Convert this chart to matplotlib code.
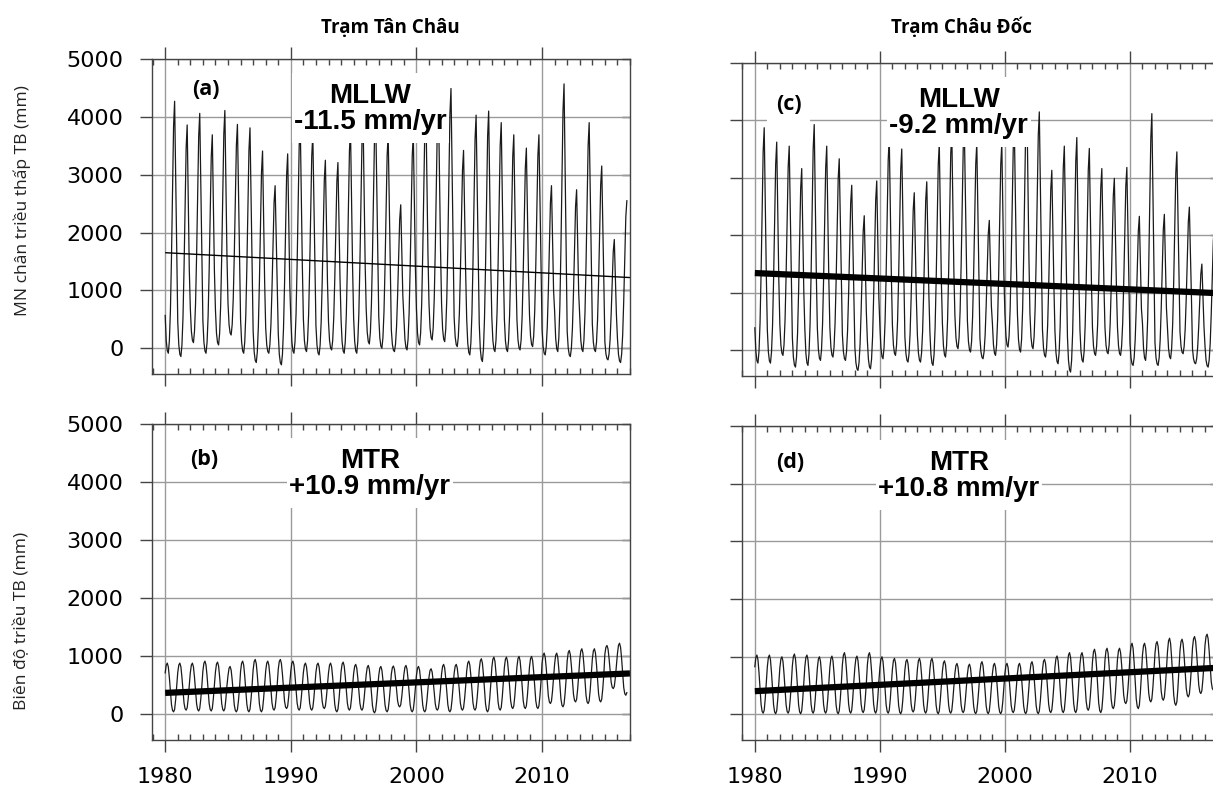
import matplotlib
matplotlib.use("Agg")
import matplotlib.pyplot as plt
import numpy as np
from matplotlib.patches import Rectangle
from matplotlib.transforms import IdentityTransform
from matplotlib.ticker import MultipleLocator

# ---- dữ liệu (mm) ----
years = np.arange(1980, 2017)
last_month = 10  # chuỗi kết thúc tháng 10/2016

# MLLW: đỉnh (mùa lũ) và chân (mùa khô) mỗi năm
mllw_tc_peak = [4270, 3860, 4060, 3690, 4110, 3870, 3810, 3410, 2810, 3360,
                3900, 3700, 3250, 3210, 3800, 4000, 4100, 3700, 2480, 3700,
                4200, 4300, 4490, 3420, 4030, 4100, 3900, 3690, 3460, 3690,
                2810, 4570, 2740, 3900, 3150, 1880, 2550]
mllw_tc_low = [-86, -144, 97, -86, 57, 229, -86, -247, -86, -287,
               -86, -58, -115, -29, -86, -86, 74, 0, -58, -29,
               57, 143, 114, 28, -115, -230, -58, -58, -29, 28,
               -115, -58, -144, -58, -58, -201, -247]
mllw_cd_peak = [3870, 3620, 3550, 3160, 3925, 3550, 3330, 2870, 2340, 2945,
                3700, 3500, 2740, 2930, 3600, 3800, 3900, 3600, 2260, 3600,
                3900, 4395, 4145, 3130, 3550, 3700, 3510, 3160, 2990, 3180,
                2330, 4115, 2365, 3450, 2490, 1500, 2150]
mllw_cd_low = [-221, -221, -87, -290, -261, -174, -116, -174, -348, -319,
               -145, -87, -203, -203, -261, -116, 29, -29, -145, -87,
               58, -29, 29, -116, -232, -377, -203, -87, -58, -87,
               -261, -174, -261, -145, -58, -232, -290]

# MTR: đỉnh (mùa khô) và chân (mùa lũ) mỗi năm
mtr_tc_peak = [880, 880, 880, 914, 897, 823, 914, 943, 914, 943,
               914, 880, 880, 880, 897, 858, 840, 823, 830, 840,
               823, 783, 858, 858, 914, 955, 983, 983, 995, 995,
               1052, 1052, 1098, 1127, 1127, 1184, 1223]
mtr_tc_low = [40, 69, 55, 55, 55, 40, 40, 40, 69, 97,
              69, 69, 97, 40, 69, 69, 23, 40, 126, 40,
              40, 69, 40, 69, 69, 40, 69, 97, 97, 97,
              183, 126, 211, 183, 211, 441, 326]
mtr_cd_peak = [1028, 1028, 998, 1046, 1028, 998, 1010, 1069, 1010, 1069,
               998, 970, 952, 970, 970, 928, 882, 870, 913, 884,
               884, 884, 913, 954, 1012, 1070, 1070, 1129, 1146, 1146,
               1233, 1233, 1262, 1320, 1303, 1349, 1390]
mtr_cd_low = [20, 10, 20, 10, 20, 20, 10, 20, 30, 20,
              20, 10, 40, 20, 10, 20, 30, 12, 12, 12,
              30, 12, 12, 30, 30, 30, 70, 30, 99, 186,
              99, 215, 244, 157, 302, 361, 420]

# dạng mùa theo tháng (0 = chân, 1 = đỉnh)
mllw_shape = [0.15, 0.05, 0.01, 0.0, 0.05, 0.17, 0.38, 0.65, 0.9, 1.0, 0.7, 0.38]
mtr_shape = [0.8, 0.96, 1.0, 0.92, 0.7, 0.42, 0.15, 0.03, 0.0, 0.05, 0.25, 0.52]

# đường xu thế: giá trị đầu (1980) và cuối (2017)
trend_x = [1980, 2017]
trend_a = [1652, 1222]
trend_b = [367, 702]
trend_c = [1344, 995]
trend_d = [402, 807]

rate_text = ["MLLW\n-11.5 mm/yr", "MTR\n+10.9 mm/yr", "MLLW\n-9.2 mm/yr", "MTR\n+10.8 mm/yr"]


def monthly(peaks, lows, shape):
    t, v = [], []
    for y, p, q in zip(years, peaks, lows):
        for m, s in enumerate(shape):
            t.append(y + m / 12)
            v.append(q + (p - q) * s)
    n = len(t) - (12 - last_month)
    return np.array(t[:n]), np.array(v[:n])


W, H = 1213, 807
fig = plt.figure(figsize=(W / 100, H / 100), dpi=100)
GREY = "#444444"


def px_axes(left, top, right, bottom):
    return fig.add_axes([left / W, 1 - bottom / H, (right - left) / W, (bottom - top) / H])


def panel(ax, t, v, trend, trend_lw, label, lab_xy, rate, show_x, show_y):
    ax.set_xlim(1978.95, 2017.0)
    ax.set_ylim(-445, 5000)
    ax.plot(t, v, color="#1a1a1a", lw=0.9, zorder=2)
    ax.plot(trend_x, trend, color="black", lw=trend_lw, solid_capstyle="butt", zorder=2.5)
    ax.xaxis.set_major_locator(MultipleLocator(10))
    ax.xaxis.set_minor_locator(MultipleLocator(1))
    ax.yaxis.set_major_locator(MultipleLocator(1000))
    ax.grid(True, which="major", color="#9a9a9a", lw=1.0)
    ax.set_axisbelow(True)
    for s in ax.spines.values():
        s.set_color(GREY)
        s.set_linewidth(1.0)
    ax.tick_params(axis="x", which="major", direction="out", top=True, bottom=True,
                   length=8.5, width=1.0, color=GREY, pad=11,
                   labelsize=16, labelbottom=show_x)
    ax.tick_params(axis="x", which="minor", direction="in", top=True, bottom=True,
                   length=4.5, width=1.0, color=GREY)
    ax.tick_params(axis="y", which="major", direction="out", length=8.5, width=1.0,
                   color=GREY, pad=12, labelsize=16, labelleft=show_y)
    sec = ax.secondary_yaxis("right")
    sec.yaxis.set_major_locator(MultipleLocator(1000))
    sec.tick_params(direction="in", length=6, width=1.0, color=GREY, labelright=False)
    sec.spines["right"].set_visible(False)
    ax.text(lab_xy[0], lab_xy[1], label, ha="center", va="center", fontsize=15.5,
            fontweight="bold", family="Open Sans", zorder=4,
            bbox=dict(facecolor="white", edgecolor="none", pad=6))
    return ax.text(1996.3, 4580, rate, ha="center", va="top", fontsize=20,
                   fontweight="bold", family="Liberation Sans", linespacing=1.0, zorder=4)


ax_a = px_axes(152, 59, 630, 374)
ax_b = px_axes(152, 424, 630, 740)
ax_c = px_axes(741.7, 62.7, 1217.5, 376)
ax_d = px_axes(741.7, 426, 1217.5, 740)

rate_labels = []
t, v = monthly(mllw_tc_peak, mllw_tc_low, mllw_shape)
rate_labels.append((ax_a, panel(ax_a, t, v, trend_a, 1.0, "(a)", (1983.2, 4480), rate_text[0], False, True)))
t, v = monthly(mtr_tc_peak, mtr_tc_low, mtr_shape)
rate_labels.append((ax_b, panel(ax_b, t, v, trend_b, 4.5, "(b)", (1983.1, 4380), rate_text[1], True, True)))
t, v = monthly(mllw_cd_peak, mllw_cd_low, mllw_shape)
rate_labels.append((ax_c, panel(ax_c, t, v, trend_c, 4.5, "(c)", (1982.7, 4280), rate_text[2], False, False)))
t, v = monthly(mtr_cd_peak, mtr_cd_low, mtr_shape)
rate_labels.append((ax_d, panel(ax_d, t, v, trend_d, 4.5, "(d)", (1982.8, 4360), rate_text[3], True, False)))

fig.text(390 / W, 1 - 28 / H, "Trạm Tân Châu", ha="center", va="center",
         fontsize=13.5, fontweight="bold", family="Open Sans")
fig.text(961 / W, 1 - 28 / H, "Trạm Châu Đốc", ha="center", va="center",
         fontsize=13.5, fontweight="bold", family="Open Sans")
fig.text(22 / W, 1 - 201 / H, "MN chân triều thấp TB (mm)", rotation=90, ha="center",
         va="center", fontsize=12.6, family="Open Sans", color="#222222")
fig.text(22 / W, 1 - 621 / H, "Biên độ triều TB (mm)", rotation=90, ha="center",
         va="center", fontsize=12.6, family="Open Sans", color="#222222")

# nền trắng sau nhãn tốc độ (che đường, như hình gốc): đệm lệch dưới nhiều hơn
fig.canvas.draw()
renderer = fig.canvas.get_renderer()
for ax, txt in rate_labels:
    bb = txt.get_window_extent(renderer)
    ax.add_patch(Rectangle((bb.x0 - 2, bb.y0 - 8), bb.width + 5, bb.height + 18,
                           transform=IdentityTransform(), facecolor="white",
                           edgecolor="none", zorder=3))

fig.savefig("out.png", dpi=100, facecolor="white")
